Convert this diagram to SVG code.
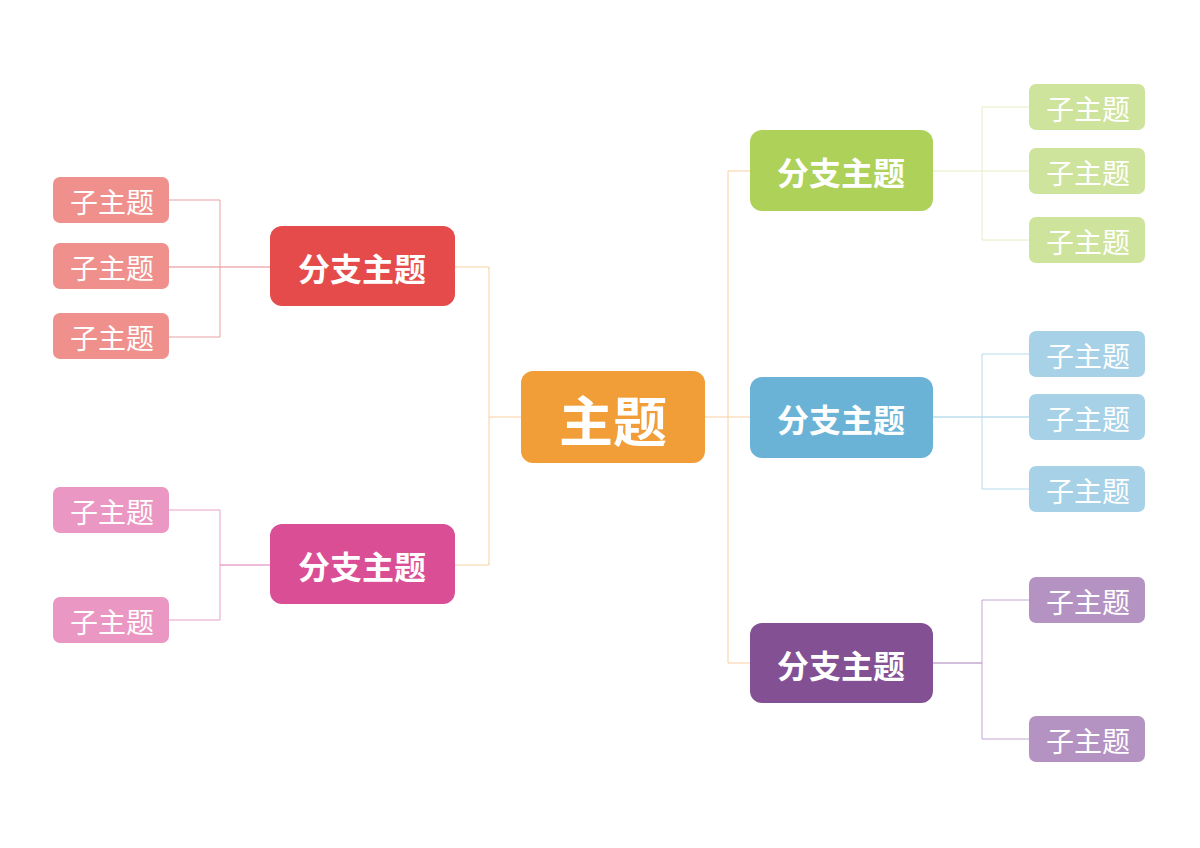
<svg xmlns="http://www.w3.org/2000/svg" width="1200" height="848" viewBox="0 0 1200 848">
<style>
text{font-family:"Noto Sans CJK SC",sans-serif;fill:#fff;text-anchor:middle;dominant-baseline:central}
.m{font-size:54px;font-weight:bold}
.b{font-size:32px;font-weight:bold}
.c{font-size:28px}
line,polyline{fill:none;stroke-width:1}
</style>
<rect width="1200" height="848" fill="#fff"/>
<g id="connectors">
<polyline points="521,417 489,417" stroke="#F8CFA0"/>
<polyline points="455,267 489,267 489,565 455,565" stroke="#F8CFA0"/>
<polyline points="705,417 750,417" stroke="#F8CFA0"/>
<polyline points="750,171 728,171 728,663 750,663" stroke="#F8CFA0"/>
<polyline points="270,267 169,267" stroke="#E8878C"/>
<polyline points="169,200 220,200 220,337 169,337" stroke="#E8A0A5"/>
<polyline points="270,565 220,565" stroke="#E07AB0"/>
<polyline points="169,510 220,510 220,620 169,620" stroke="#EBA0C8"/>
<polyline points="933,171 1029,171" stroke="#E3EEC4"/>
<polyline points="1029,107 982,107 982,240 1029,240" stroke="#E3EEC4"/>
<polyline points="933,417 1029,417" stroke="#9ACCE4"/>
<polyline points="1029,354 982,354 982,489 1029,489" stroke="#B6DAEB"/>
<polyline points="933,663 982,663" stroke="#A67FB8"/>
<polyline points="1029,600 982,600 982,739 1029,739" stroke="#C3A6D0"/>
</g>
<g id="main"><rect x="521" y="371" width="184" height="92" rx="12" fill="#F19E38"/><text class="m" x="613" y="418">主题</text></g>
<g id="b1"><rect x="270" y="226" width="185" height="80" rx="12" fill="#E44B4A"/><text class="b" x="362" y="267">分支主题</text></g>
<g id="b2"><rect x="270" y="524" width="185" height="80" rx="12" fill="#D94E94"/><text class="b" x="362" y="565">分支主题</text></g>
<g id="b3"><rect x="750" y="130" width="183" height="81" rx="12" fill="#AED15A"/><text class="b" x="841" y="171">分支主题</text></g>
<g id="b4"><rect x="750" y="377" width="183" height="81" rx="12" fill="#6BB3D6"/><text class="b" x="841" y="418">分支主题</text></g>
<g id="b5"><rect x="750" y="623" width="183" height="80" rx="12" fill="#825093"/><text class="b" x="841" y="664">分支主题</text></g>
<g id="c1"><rect x="53" y="177" width="116" height="46" rx="7" fill="#F0908D"/><text class="c" x="112" y="201">子主题</text></g>
<g id="c2"><rect x="53" y="243" width="116" height="46" rx="7" fill="#F0908D"/><text class="c" x="112" y="267">子主题</text></g>
<g id="c3"><rect x="53" y="313" width="116" height="46" rx="7" fill="#F0908D"/><text class="c" x="112" y="337">子主题</text></g>
<g id="c4"><rect x="53" y="487" width="116" height="46" rx="7" fill="#EB97C3"/><text class="c" x="112" y="511">子主题</text></g>
<g id="c5"><rect x="53" y="597" width="116" height="46" rx="7" fill="#EB97C3"/><text class="c" x="112" y="621">子主题</text></g>
<g id="c6"><rect x="1029" y="84" width="116" height="46" rx="7" fill="#CEE39B"/><text class="c" x="1088" y="108">子主题</text></g>
<g id="c7"><rect x="1029" y="148" width="116" height="46" rx="7" fill="#CEE39B"/><text class="c" x="1088" y="172">子主题</text></g>
<g id="c8"><rect x="1029" y="217" width="116" height="46" rx="7" fill="#CEE39B"/><text class="c" x="1088" y="241">子主题</text></g>
<g id="c9"><rect x="1029" y="331" width="116" height="46" rx="7" fill="#A6D1E6"/><text class="c" x="1088" y="355">子主题</text></g>
<g id="c10"><rect x="1029" y="394" width="116" height="46" rx="7" fill="#A6D1E6"/><text class="c" x="1088" y="418">子主题</text></g>
<g id="c11"><rect x="1029" y="466" width="116" height="46" rx="7" fill="#A6D1E6"/><text class="c" x="1088" y="490">子主题</text></g>
<g id="c12"><rect x="1029" y="577" width="116" height="46" rx="7" fill="#B493C3"/><text class="c" x="1088" y="601">子主题</text></g>
<g id="c13"><rect x="1029" y="716" width="116" height="46" rx="7" fill="#B493C3"/><text class="c" x="1088" y="740">子主题</text></g>
</svg>
